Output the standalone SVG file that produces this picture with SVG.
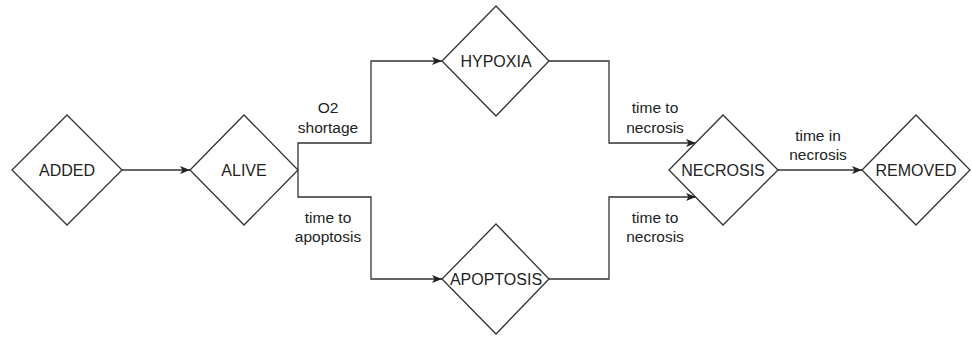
<svg xmlns="http://www.w3.org/2000/svg" width="972" height="337" viewBox="0 0 972 337">
<style>
.node{fill:#fff;stroke:#333;stroke-width:1.3}
.lbl{font-family:"Liberation Sans",Arial,sans-serif;font-size:16px;fill:#222;text-anchor:middle;dominant-baseline:central}
.edge{fill:none;stroke:#333;stroke-width:1.3}
.el{font-family:"Liberation Sans",Arial,sans-serif;font-size:15.5px;fill:#222;text-anchor:middle;dominant-baseline:central}
</style>
<defs>
<marker id="arr" viewBox="0 0 10 8" refX="10" refY="4" markerWidth="10" markerHeight="8" markerUnits="userSpaceOnUse" orient="auto">
<path d="M0,0 L10,4 L0,8 L2.5,4 Z" fill="#222"/>
</marker>
</defs>
<rect width="972" height="337" fill="#fff"/>
<g id="connectors">
<path class="edge" d="M122,170 H190" marker-end="url(#arr)"/>
<path class="edge" d="M298,170 V143 H371 V61 H442" marker-end="url(#arr)"/>
<path class="edge" d="M298,170 V197 H371 V279 H442" marker-end="url(#arr)"/>
<path class="edge" d="M549,61 H609 V143 H696" marker-end="url(#arr)"/>
<path class="edge" d="M549,279 H609 V197 H696" marker-end="url(#arr)"/>
<path class="edge" d="M778,170 H862" marker-end="url(#arr)"/>
<text class="el" x="328" y="107">O2</text>
<text class="el" x="328" y="127">shortage</text>
<text class="el" x="328" y="217">time to</text>
<text class="el" x="328" y="236">apoptosis</text>
<text class="el" x="655" y="107">time to</text>
<text class="el" x="655" y="127">necrosis</text>
<text class="el" x="655" y="217">time to</text>
<text class="el" x="655" y="236">necrosis</text>
<text class="el" x="818" y="135">time in</text>
<text class="el" x="818" y="154">necrosis</text>
</g>
<g id="added">
<path class="node" d="M67,115 L122,170 L67,225 L12,170 Z"/>
<text class="lbl" x="67" y="170">ADDED</text>
</g>
<g id="alive">
<path class="node" d="M244,115 L298,170 L244,225 L190,170 Z"/>
<text class="lbl" x="244" y="170">ALIVE</text>
</g>
<g id="hypoxia">
<path class="node" d="M496,6 L549,61 L496,116 L442,61 Z"/>
<text class="lbl" x="496" y="61">HYPOXIA</text>
</g>
<g id="apoptosis">
<path class="node" d="M496,224 L549,279 L496,334 L442,279 Z"/>
<text class="lbl" x="496" y="279">APOPTOSIS</text>
</g>
<g id="necrosis">
<path class="node" d="M723,115 L778,170 L723,225 L669,170 Z"/>
<text class="lbl" x="723" y="170">NECROSIS</text>
</g>
<g id="removed">
<path class="node" d="M916,115 L970,170 L916,225 L862,170 Z"/>
<text class="lbl" x="916" y="170">REMOVED</text>
</g>
</svg>
